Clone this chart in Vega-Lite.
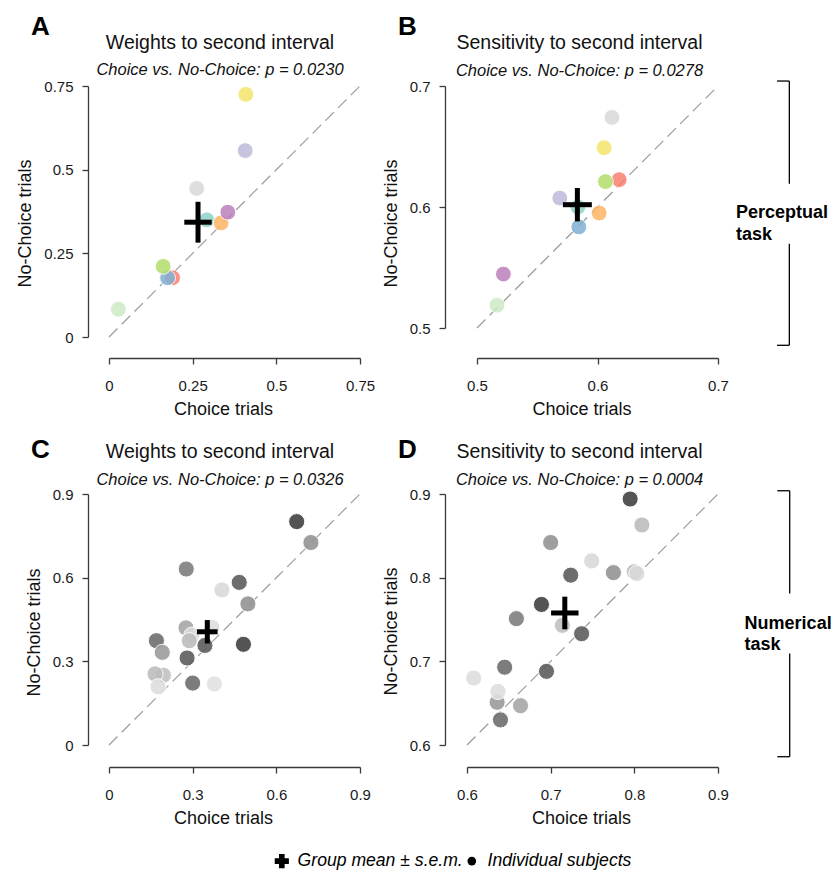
{
  "$schema": "https://vega.github.io/schema/vega-lite/v6.json",
  "padding": {"left": 16, "top": 14, "right": 0, "bottom": 0},
  "background": "white",
  "datasets": {
    "subjects": [
      {"panel": "A", "subject": "s4", "choice": 0.190, "nochoice": 0.177},
      {"panel": "A", "subject": "s5", "choice": 0.175, "nochoice": 0.177},
      {"panel": "A", "subject": "s7", "choice": 0.162, "nochoice": 0.211},
      {"panel": "A", "subject": "s10", "choice": 0.028, "nochoice": 0.083},
      {"panel": "A", "subject": "s1", "choice": 0.292, "nochoice": 0.350},
      {"panel": "A", "subject": "s6", "choice": 0.335, "nochoice": 0.341},
      {"panel": "A", "subject": "s9", "choice": 0.355, "nochoice": 0.373},
      {"panel": "A", "subject": "s8", "choice": 0.262, "nochoice": 0.444},
      {"panel": "A", "subject": "s3", "choice": 0.407, "nochoice": 0.557},
      {"panel": "A", "subject": "s2", "choice": 0.409, "nochoice": 0.725},
      {"panel": "B", "subject": "s4", "choice": 0.618, "nochoice": 0.6226},
      {"panel": "B", "subject": "s7", "choice": 0.6066, "nochoice": 0.621},
      {"panel": "B", "subject": "s1", "choice": 0.5837, "nochoice": 0.600},
      {"panel": "B", "subject": "s5", "choice": 0.5845, "nochoice": 0.5835},
      {"panel": "B", "subject": "s3", "choice": 0.5687, "nochoice": 0.6074},
      {"panel": "B", "subject": "s6", "choice": 0.6014, "nochoice": 0.595},
      {"panel": "B", "subject": "s8", "choice": 0.612, "nochoice": 0.674},
      {"panel": "B", "subject": "s2", "choice": 0.6055, "nochoice": 0.649},
      {"panel": "B", "subject": "s9", "choice": 0.5219, "nochoice": 0.5446},
      {"panel": "B", "subject": "s10", "choice": 0.5166, "nochoice": 0.5188},
      {"panel": "C", "subject": "S01", "choice": 0.673, "nochoice": 0.801},
      {"panel": "C", "subject": "S09", "choice": 0.724, "nochoice": 0.726},
      {"panel": "C", "subject": "S08", "choice": 0.277, "nochoice": 0.631},
      {"panel": "C", "subject": "S03", "choice": 0.467, "nochoice": 0.583},
      {"panel": "C", "subject": "S15", "choice": 0.405, "nochoice": 0.556},
      {"panel": "C", "subject": "S10", "choice": 0.498, "nochoice": 0.506},
      {"panel": "C", "subject": "S20", "choice": 0.276, "nochoice": 0.420},
      {"panel": "C", "subject": "S16", "choice": 0.297, "nochoice": 0.394},
      {"panel": "C", "subject": "S17", "choice": 0.369, "nochoice": 0.422},
      {"panel": "C", "subject": "S12", "choice": 0.288, "nochoice": 0.374},
      {"panel": "C", "subject": "S06", "choice": 0.170, "nochoice": 0.374},
      {"panel": "C", "subject": "S11", "choice": 0.191, "nochoice": 0.332},
      {"panel": "C", "subject": "S04", "choice": 0.344, "nochoice": 0.357},
      {"panel": "C", "subject": "S02", "choice": 0.482, "nochoice": 0.361},
      {"panel": "C", "subject": "S05", "choice": 0.280, "nochoice": 0.312},
      {"panel": "C", "subject": "S14", "choice": 0.195, "nochoice": 0.250},
      {"panel": "C", "subject": "S13", "choice": 0.165, "nochoice": 0.255},
      {"panel": "C", "subject": "S18", "choice": 0.176, "nochoice": 0.209},
      {"panel": "C", "subject": "S07", "choice": 0.300, "nochoice": 0.222},
      {"panel": "C", "subject": "S19", "choice": 0.378, "nochoice": 0.219},
      {"panel": "D", "subject": "S01", "choice": 0.795, "nochoice": 0.894},
      {"panel": "D", "subject": "S12", "choice": 0.809, "nochoice": 0.863},
      {"panel": "D", "subject": "S09", "choice": 0.700, "nochoice": 0.842},
      {"panel": "D", "subject": "S15", "choice": 0.749, "nochoice": 0.820},
      {"panel": "D", "subject": "S10", "choice": 0.775, "nochoice": 0.806},
      {"panel": "D", "subject": "S13", "choice": 0.800, "nochoice": 0.807},
      {"panel": "D", "subject": "S16", "choice": 0.803, "nochoice": 0.805},
      {"panel": "D", "subject": "S03", "choice": 0.724, "nochoice": 0.803},
      {"panel": "D", "subject": "S02", "choice": 0.689, "nochoice": 0.768},
      {"panel": "D", "subject": "S08", "choice": 0.659, "nochoice": 0.751},
      {"panel": "D", "subject": "S14", "choice": 0.714, "nochoice": 0.743},
      {"panel": "D", "subject": "S04", "choice": 0.737, "nochoice": 0.733},
      {"panel": "D", "subject": "S06", "choice": 0.645, "nochoice": 0.693},
      {"panel": "D", "subject": "S05", "choice": 0.695, "nochoice": 0.688},
      {"panel": "D", "subject": "S17", "choice": 0.608, "nochoice": 0.680},
      {"panel": "D", "subject": "S11", "choice": 0.636, "nochoice": 0.651},
      {"panel": "D", "subject": "S18", "choice": 0.637, "nochoice": 0.664},
      {"panel": "D", "subject": "S20", "choice": 0.664, "nochoice": 0.647},
      {"panel": "D", "subject": "S07", "choice": 0.640, "nochoice": 0.630}
    ],
    "means": [
      {"panel": "A", "choice": 0.266, "nochoice": 0.343, "choice_lo": 0.225, "choice_hi": 0.307, "nochoice_lo": 0.282, "nochoice_hi": 0.404},
      {"panel": "B", "choice": 0.5833, "nochoice": 0.6019, "choice_lo": 0.5713, "choice_hi": 0.5953, "nochoice_lo": 0.5881, "nochoice_hi": 0.6157},
      {"panel": "C", "choice": 0.3525, "nochoice": 0.406, "choice_lo": 0.3155, "choice_hi": 0.3895, "nochoice_lo": 0.364, "nochoice_hi": 0.448},
      {"panel": "D", "choice": 0.7169, "nochoice": 0.7578, "choice_lo": 0.7005, "choice_hi": 0.7333, "nochoice_lo": 0.7383, "nochoice_hi": 0.7773}
    ]
  },
  "columns": 2,
  "bounds": "flush",
  "spacing": {"row": 157, "column": 107},
  "resolve": {"scale": {"color": "independent"}},
  "concat": [
    {
      "width": 251, "height": 251,
      "title": {"text": "Weights to second interval", "subtitle": "Choice vs. No-Choice: p = 0.0230", "dx": -14.5, "offset": -65.7},
      "layer": [
        {
          "data": {"values": [{}]},
          "mark": {"type": "rule", "strokeDash": [12, 6], "color": "#9a9a9a", "strokeWidth": 1.2},
          "encoding": {"x": {"datum": 0, "type": "quantitative"}, "y": {"datum": 0, "type": "quantitative"}, "x2": {"datum": 0.75}, "y2": {"datum": 0.75}}
        },
        {
          "data": {"name": "subjects"},
          "transform": [{"filter": "datum.panel === 'A'"}],
          "mark": {"type": "circle", "size": 250, "opacity": 0.85, "stroke": "white", "strokeWidth": 1},
          "encoding": {
            "x": {"field": "choice", "type": "quantitative", "scale": {"domain": [0, 0.75], "nice": false, "zero": false}, "axis": {"title": "Choice trials", "values": [0, 0.25, 0.5, 0.75], "format": ".2~f", "offset": 21, "titleX": 114}},
            "y": {"field": "nochoice", "type": "quantitative", "scale": {"domain": [0, 0.75], "nice": false, "zero": false}, "axis": {"title": "No-Choice trials", "values": [0, 0.25, 0.5, 0.75], "format": ".2~f", "offset": 21, "titleY": 137}},
            "color": {"field": "subject", "type": "nominal", "legend": null, "scale": {"domain": ["s1", "s2", "s3", "s4", "s5", "s6", "s7", "s8", "s9", "s10"], "range": ["#8dd3c7", "#f5e56a", "#bebada", "#fb8072", "#80b1d3", "#fdb462", "#b3de69", "#d9d9d9", "#bc80bd", "#ccebc5"]}}
          }
        },
        {
          "data": {"name": "means"},
          "transform": [{"filter": "datum.panel === 'A'"}],
          "mark": {"type": "rule", "color": "#000000", "strokeWidth": 5},
          "encoding": {"x": {"field": "choice_lo", "type": "quantitative"}, "x2": {"field": "choice_hi"}, "y": {"field": "nochoice", "type": "quantitative"}}
        },
        {
          "data": {"name": "means"},
          "transform": [{"filter": "datum.panel === 'A'"}],
          "mark": {"type": "rule", "color": "#000000", "strokeWidth": 5},
          "encoding": {"x": {"field": "choice", "type": "quantitative"}, "y": {"field": "nochoice_lo", "type": "quantitative"}, "y2": {"field": "nochoice_hi"}}
        },
        {
          "data": {"values": [{}]},
          "mark": {"type": "text", "text": "A", "fontSize": 26, "fontWeight": "bold", "align": "left", "baseline": "alphabetic", "color": "#000000"},
          "encoding": {"x": {"datum": -0.233, "type": "quantitative"}, "y": {"datum": 0.902, "type": "quantitative"}}
        }
      ]
    },
    {
      "width": 251, "height": 251,
      "title": {"text": "Sensitivity to second interval", "subtitle": "Choice vs. No-Choice: p = 0.0278", "dx": -13, "offset": -65.7},
      "layer": [
        {
          "data": {"values": [{}]},
          "mark": {"type": "rule", "strokeDash": [12, 6], "color": "#9a9a9a", "strokeWidth": 1.2},
          "encoding": {"x": {"datum": 0.5, "type": "quantitative"}, "y": {"datum": 0.5, "type": "quantitative"}, "x2": {"datum": 0.7}, "y2": {"datum": 0.7}}
        },
        {
          "data": {"name": "subjects"},
          "transform": [{"filter": "datum.panel === 'B'"}],
          "mark": {"type": "circle", "size": 250, "opacity": 0.85, "stroke": "white", "strokeWidth": 1},
          "encoding": {
            "x": {"field": "choice", "type": "quantitative", "scale": {"domain": [0.5, 0.7], "range": [10, 251], "nice": false, "zero": false}, "axis": {"title": "Choice trials", "values": [0.5, 0.6, 0.7], "format": ".1~f", "offset": 21, "titleX": 114.5}},
            "y": {"field": "nochoice", "type": "quantitative", "scale": {"domain": [0.5, 0.7], "range": [242, 0], "nice": false, "zero": false}, "axis": {"title": "No-Choice trials", "values": [0.5, 0.6, 0.7], "format": ".1~f", "offset": 22, "titleY": 137}},
            "color": {"field": "subject", "type": "nominal", "legend": null, "scale": {"domain": ["s1", "s2", "s3", "s4", "s5", "s6", "s7", "s8", "s9", "s10"], "range": ["#8dd3c7", "#f5e56a", "#bebada", "#fb8072", "#80b1d3", "#fdb462", "#b3de69", "#d9d9d9", "#bc80bd", "#ccebc5"]}}
          }
        },
        {
          "data": {"name": "means"},
          "transform": [{"filter": "datum.panel === 'B'"}],
          "mark": {"type": "rule", "color": "#000000", "strokeWidth": 5},
          "encoding": {"x": {"field": "choice_lo", "type": "quantitative"}, "x2": {"field": "choice_hi"}, "y": {"field": "nochoice", "type": "quantitative"}}
        },
        {
          "data": {"name": "means"},
          "transform": [{"filter": "datum.panel === 'B'"}],
          "mark": {"type": "rule", "color": "#000000", "strokeWidth": 5},
          "encoding": {"x": {"field": "choice", "type": "quantitative"}, "y": {"field": "nochoice_lo", "type": "quantitative"}, "y2": {"field": "nochoice_hi"}}
        },
        {
          "data": {"values": [{}]},
          "mark": {"type": "text", "text": "B", "fontSize": 26, "fontWeight": "bold", "align": "left", "baseline": "alphabetic", "color": "#000000"},
          "encoding": {"x": {"datum": 0.4344, "type": "quantitative"}, "y": {"datum": 0.7419, "type": "quantitative"}}
        },
        {
          "data": {"values": [{}]},
          "mark": {"type": "rule", "color": "#000000", "strokeWidth": 1.3},
          "encoding": {"x": {"datum": 0.7592, "type": "quantitative"}, "y": {"datum": 0.6193, "type": "quantitative"}, "y2": {"datum": 0.7041}}
        },
        {
          "data": {"values": [{}]},
          "mark": {"type": "rule", "color": "#000000", "strokeWidth": 1.3},
          "encoding": {"x": {"datum": 0.7592, "type": "quantitative"}, "y": {"datum": 0.4857, "type": "quantitative"}, "y2": {"datum": 0.5697}}
        },
        {
          "data": {"values": [{}]},
          "mark": {"type": "rule", "color": "#000000", "strokeWidth": 1.3},
          "encoding": {"x": {"datum": 0.749, "type": "quantitative"}, "x2": {"datum": 0.7592}, "y": {"datum": 0.7041, "type": "quantitative"}}
        },
        {
          "data": {"values": [{}]},
          "mark": {"type": "rule", "color": "#000000", "strokeWidth": 1.3},
          "encoding": {"x": {"datum": 0.749, "type": "quantitative"}, "x2": {"datum": 0.7592}, "y": {"datum": 0.4857, "type": "quantitative"}}
        },
        {
          "data": {"values": [{}]},
          "mark": {"type": "text", "text": ["Perceptual", "task"], "align": "left", "baseline": "middle", "fontWeight": "bold", "fontSize": 18, "lineHeight": 21.5, "color": "#000000"},
          "encoding": {"x": {"datum": 0.7149, "type": "quantitative"}, "y": {"datum": 0.595, "type": "quantitative"}}
        }
      ]
    },
    {
      "width": 251, "height": 251,
      "title": {"text": "Weights to second interval", "subtitle": "Choice vs. No-Choice: p = 0.0326", "dx": -14.5, "offset": -52.4},
      "layer": [
        {
          "data": {"values": [{}]},
          "mark": {"type": "rule", "strokeDash": [12, 6], "color": "#9a9a9a", "strokeWidth": 1.2},
          "encoding": {"x": {"datum": 0, "type": "quantitative"}, "y": {"datum": 0, "type": "quantitative"}, "x2": {"datum": 0.9}, "y2": {"datum": 0.9}}
        },
        {
          "data": {"name": "subjects"},
          "transform": [{"filter": "datum.panel === 'C'"}],
          "mark": {"type": "point", "filled": true, "size": 260, "opacity": 0.9, "stroke": "white", "strokeWidth": 1},
          "encoding": {
            "x": {"field": "choice", "type": "quantitative", "scale": {"domain": [0, 0.9], "nice": false, "zero": false}, "axis": {"title": "Choice trials", "values": [0, 0.3, 0.6, 0.9], "format": ".1~f", "offset": 22, "titleX": 114}},
            "y": {"field": "nochoice", "type": "quantitative", "scale": {"domain": [0, 0.9], "nice": false, "zero": false}, "axis": {"title": "No-Choice trials", "values": [0, 0.3, 0.6, 0.9], "format": ".1~f", "offset": 21, "titleY": 138}},
            "color": {"field": "subject", "type": "nominal", "legend": null, "scale": {"domain": ["S01", "S02", "S03", "S04", "S05", "S06", "S07", "S08", "S09", "S10", "S11", "S12", "S13", "S14", "S15", "S16", "S17", "S18", "S19", "S20"], "range": ["#424242", "#424242", "#5e5e5e", "#5e5e5e", "#5e5e5e", "#6e6e6e", "#6e6e6e", "#7f7f7f", "#949494", "#949494", "#9c9c9c", "#bdbdbd", "#bdbdbd", "#c2c2c2", "#dadada", "#dadada", "#dedede", "#dedede", "#e2e2e2", "#a7a7a7"]}},
            "shape": {
              "datum": "Individual subjects", "type": "nominal",
              "scale": {"domain": ["Group mean ± s.e.m.", "Individual subjects"], "range": ["cross", "circle"]},
              "legend": {
                "title": null, "orient": "none", "legendX": 164, "legendY": 766, "direction": "horizontal",
                "labelFontSize": 17.6, "labelFontStyle": "italic", "labelColor": "#000000", "labelOffset": 7, "labelLimit": 0, "columnPadding": 0,
                "symbolFillColor": "#000000", "symbolStrokeColor": "#000000", "symbolOpacity": 1, "symbolStrokeWidth": 0,
                "encode": {"symbols": {"update": {"fill": {"value": "#000000"}, "stroke": {"value": "#000000"}, "strokeWidth": {"value": 0}, "opacity": {"value": 1}, "size": {"signal": "datum.value === 'Individual subjects' ? 75 : 200"}}}}
              }
            }
          }
        },
        {
          "data": {"name": "means"},
          "transform": [{"filter": "datum.panel === 'C'"}],
          "mark": {"type": "rule", "color": "#000000", "strokeWidth": 5},
          "encoding": {"x": {"field": "choice_lo", "type": "quantitative"}, "x2": {"field": "choice_hi"}, "y": {"field": "nochoice", "type": "quantitative"}}
        },
        {
          "data": {"name": "means"},
          "transform": [{"filter": "datum.panel === 'C'"}],
          "mark": {"type": "rule", "color": "#000000", "strokeWidth": 5},
          "encoding": {"x": {"field": "choice", "type": "quantitative"}, "y": {"field": "nochoice_lo", "type": "quantitative"}, "y2": {"field": "nochoice_hi"}}
        },
        {
          "data": {"values": [{}]},
          "mark": {"type": "text", "text": "C", "fontSize": 26, "fontWeight": "bold", "align": "left", "baseline": "alphabetic", "color": "#000000"},
          "encoding": {"x": {"datum": -0.28, "type": "quantitative"}, "y": {"datum": 1.030, "type": "quantitative"}}
        }
      ]
    },
    {
      "width": 251, "height": 251,
      "title": {"text": "Sensitivity to second interval", "subtitle": "Choice vs. No-Choice: p = 0.0004", "dx": -13, "offset": -52.4},
      "layer": [
        {
          "data": {"values": [{}]},
          "mark": {"type": "rule", "strokeDash": [12, 6], "color": "#9a9a9a", "strokeWidth": 1.2},
          "encoding": {"x": {"datum": 0.6, "type": "quantitative"}, "y": {"datum": 0.6, "type": "quantitative"}, "x2": {"datum": 0.9}, "y2": {"datum": 0.9}}
        },
        {
          "data": {"name": "subjects"},
          "transform": [{"filter": "datum.panel === 'D'"}],
          "mark": {"type": "circle", "size": 260, "opacity": 0.9, "stroke": "white", "strokeWidth": 1},
          "encoding": {
            "x": {"field": "choice", "type": "quantitative", "scale": {"domain": [0.6, 0.9], "nice": false, "zero": false}, "axis": {"title": "Choice trials", "values": [0.6, 0.7, 0.8, 0.9], "format": ".1~f", "offset": 22, "titleX": 114}},
            "y": {"field": "nochoice", "type": "quantitative", "scale": {"domain": [0.6, 0.9], "nice": false, "zero": false}, "axis": {"title": "No-Choice trials", "values": [0.6, 0.7, 0.8, 0.9], "format": ".1~f", "offset": 22, "titleY": 137}},
            "color": {"field": "subject", "type": "nominal", "legend": null, "scale": {"domain": ["S01", "S02", "S03", "S04", "S05", "S06", "S07", "S08", "S09", "S10", "S11", "S12", "S13", "S14", "S15", "S16", "S17", "S18", "S19", "S20"], "range": ["#424242", "#424242", "#5e5e5e", "#5e5e5e", "#5e5e5e", "#6e6e6e", "#6e6e6e", "#7f7f7f", "#949494", "#949494", "#9c9c9c", "#bdbdbd", "#bdbdbd", "#c2c2c2", "#dadada", "#dadada", "#dedede", "#dedede", "#e2e2e2", "#a7a7a7"]}}
          }
        },
        {
          "data": {"name": "means"},
          "transform": [{"filter": "datum.panel === 'D'"}],
          "mark": {"type": "rule", "color": "#000000", "strokeWidth": 5},
          "encoding": {"x": {"field": "choice_lo", "type": "quantitative"}, "x2": {"field": "choice_hi"}, "y": {"field": "nochoice", "type": "quantitative"}}
        },
        {
          "data": {"name": "means"},
          "transform": [{"filter": "datum.panel === 'D'"}],
          "mark": {"type": "rule", "color": "#000000", "strokeWidth": 5},
          "encoding": {"x": {"field": "choice", "type": "quantitative"}, "y": {"field": "nochoice_lo", "type": "quantitative"}, "y2": {"field": "nochoice_hi"}}
        },
        {
          "data": {"values": [{}]},
          "mark": {"type": "text", "text": "D", "fontSize": 26, "fontWeight": "bold", "align": "left", "baseline": "alphabetic", "color": "#000000"},
          "encoding": {"x": {"datum": 0.5174, "type": "quantitative"}, "y": {"datum": 0.9434, "type": "quantitative"}}
        },
        {
          "data": {"values": [{}]},
          "mark": {"type": "rule", "color": "#000000", "strokeWidth": 1.3},
          "encoding": {"x": {"datum": 0.9857, "type": "quantitative"}, "y": {"datum": 0.7812, "type": "quantitative"}, "y2": {"datum": 0.9039}}
        },
        {
          "data": {"values": [{}]},
          "mark": {"type": "rule", "color": "#000000", "strokeWidth": 1.3},
          "encoding": {"x": {"datum": 0.9857, "type": "quantitative"}, "y": {"datum": 0.586, "type": "quantitative"}, "y2": {"datum": 0.7095}}
        },
        {
          "data": {"values": [{}]},
          "mark": {"type": "rule", "color": "#000000", "strokeWidth": 1.3},
          "encoding": {"x": {"datum": 0.9709, "type": "quantitative"}, "x2": {"datum": 0.9857}, "y": {"datum": 0.9039, "type": "quantitative"}}
        },
        {
          "data": {"values": [{}]},
          "mark": {"type": "rule", "color": "#000000", "strokeWidth": 1.3},
          "encoding": {"x": {"datum": 0.9709, "type": "quantitative"}, "x2": {"datum": 0.9857}, "y": {"datum": 0.586, "type": "quantitative"}}
        },
        {
          "data": {"values": [{}]},
          "mark": {"type": "text", "text": ["Numerical", "task"], "align": "left", "baseline": "middle", "fontWeight": "bold", "fontSize": 18, "lineHeight": 21.5, "color": "#000000"},
          "encoding": {"x": {"datum": 0.9318, "type": "quantitative"}, "y": {"datum": 0.745, "type": "quantitative"}}
        }
      ]
    }
  ],
  "config": {
    "font": "Liberation Sans",
    "view": {"stroke": null},
    "axis": {"grid": false, "domainColor": "#3a3a3a", "domainWidth": 1.3, "tickColor": "#3a3a3a", "tickWidth": 1.3, "tickSize": 6, "labelFontSize": 15, "labelColor": "#1a1a1a", "labelFlush": false, "labelOverlap": false, "titleFontSize": 18, "titleFontWeight": "normal", "titleColor": "#111111"},
    "axisX": {"labelPadding": 14, "titlePadding": 7.5},
    "axisY": {"labelPadding": 9, "titlePadding": 9},
    "title": {"fontSize": 19.5, "fontWeight": "normal", "color": "#111111", "subtitleFontSize": 16.5, "subtitleFontStyle": "italic", "subtitleColor": "#111111", "subtitlePadding": 9, "offset": 2, "anchor": "middle", "frame": "group"}
  }
}
